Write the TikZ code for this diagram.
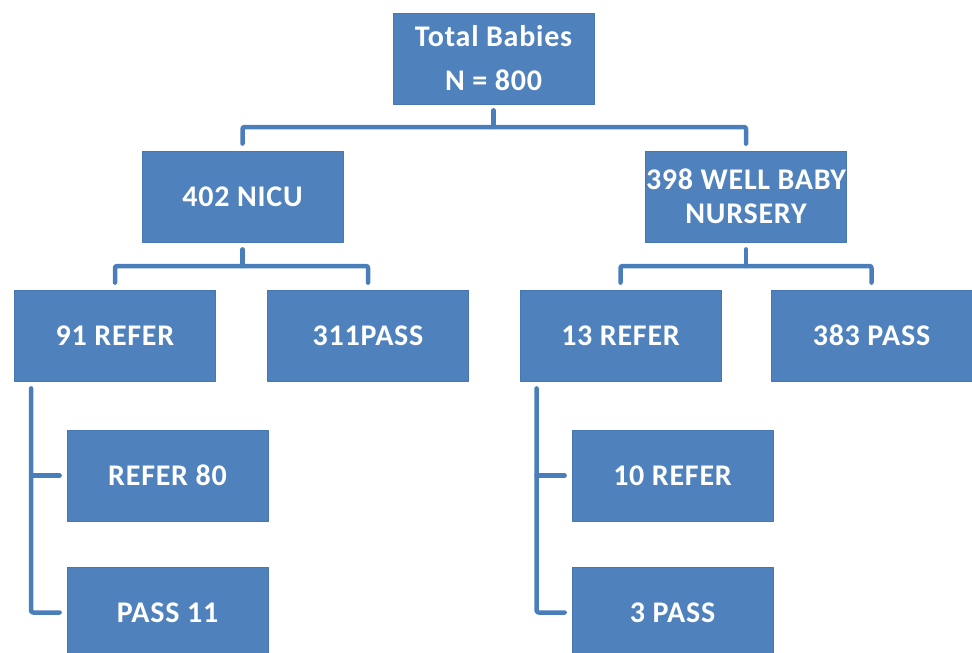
\documentclass[tikz,border=0pt]{standalone}
\usepackage{fontspec}
\setmainfont{Carlito}[LetterSpace=2.5]
\usetikzlibrary{calc}
\definecolor{boxblue}{HTML}{4F81BD}
\definecolor{boxedge}{HTML}{4677B2}
\definecolor{linkblue}{HTML}{4A7EBB}
\tikzset{babybox/.style=
	{draw=boxedge,
		fill=boxblue,
		line width=0.8pt,
		minimum width=201pt,
		minimum height=91pt,
		inner sep=0pt,
		align=center,
		text=white,
		font=\bfseries\fontsize{30}{34}\selectfont},
	link/.style={draw=linkblue,line width=4.5pt,rounded corners=2pt},
}

\begin{document}
\begin{tikzpicture}[x=1pt,y=-1pt,line cap=round,line join=round]
			\useasboundingbox (0,0) rectangle (972,653);
			
			% levels
			\node[babybox] (total) at (493.5,58.5) {Total Babies\\[10pt]N = 800};
			\node[babybox] (nicu) at (242.5,196.5) {402 NICU};
			\node[babybox] (well) at (746,196.5) {398 WELL BABY\\NURSERY};
			
			\node[babybox] (refer91) at (115,335.5) {91 REFER};
			\node[babybox] (pass311) at (368,335.5) {311PASS};
			\node[babybox] (refer13) at (620.5,335.5) {13 REFER};
			\node[babybox] (pass383) at (871.5,335.5) {383 PASS};
			
			\node[babybox] (refer80) at (167.5,475.5) {REFER 80};
			\node[babybox] (pass11) at (167.5,612.5) {PASS 11};
			\node[babybox] (refer10) at (672.5,475.5) {10 REFER};
			\node[babybox] (pass3) at (672.5,612.5) {3 PASS};
			
			% bars
			\coordinate (topbar) at (0,127);
			\coordinate (midbar) at (0,266);
			\draw[link] ([yshift=-6pt]total.south) -- (total.south |- topbar);
			\draw[link] ([yshift=7pt]nicu.north) -- (nicu.north |- topbar) -- (well.north |- topbar) -- ([yshift=7pt]well.north);
			
			\foreach \up/\a/\b in {nicu/refer91/pass311, well/refer13/pass383}{
				\draw[link] ([yshift=-7pt]\up.south) -- (\up.south |- midbar);
				\draw[link] ([yshift=7pt]\a.north) -- (\a.north |- midbar) -- (\b.north |- midbar) -- ([yshift=7pt]\b.north);}
			
			% spines
			\foreach \up/\a/\b in {refer91/refer80/pass11, refer13/refer10/pass3}{
				\coordinate (spine) at ([shift={(17pt,-7pt)}]\up.south west);
				\draw[link] (spine) |- ([xshift=-7pt]\b.west);
				\draw[link] (spine |- \a.west) -- ([xshift=-7pt]\a.west);}
		\end{tikzpicture}
\end{document}
